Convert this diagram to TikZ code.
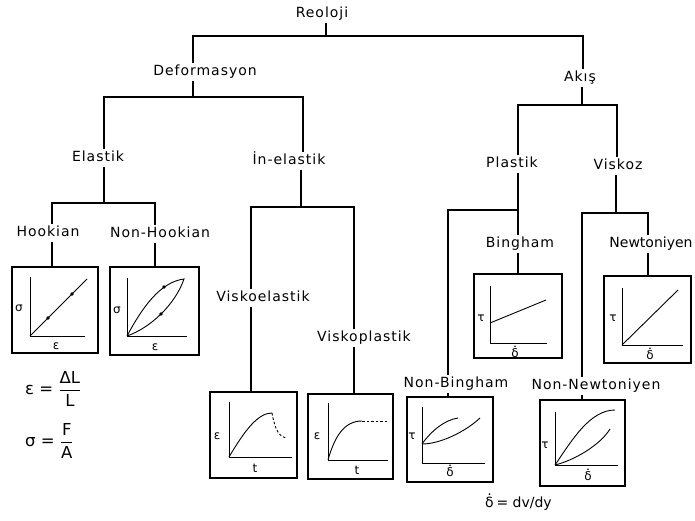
\documentclass[tikz,border=0pt]{standalone}
\usepackage{fontspec}
\setmainfont{DejaVu Sans}
\newfontfamily\lblfont{DejaVu Sans}[LetterSpace=7]
\begin{document}
\begin{tikzpicture}[x=1pt,y=-1pt,
  lbl/.style={font=\lblfont\fontsize{14}{16}\selectfont, inner sep=2.5pt, text height=10pt, text depth=3pt},
  lbltight/.style={lbl, font=\fontsize{14}{16}\selectfont},
  ax/.style={font=\fontsize{12}{14}\selectfont, inner sep=0pt},
  frm/.style={font=\fontsize{14}{16}\selectfont, inner sep=0pt},
  frmbig/.style={font=\fontsize{16.5}{19}\selectfont, inner sep=0pt},
  tree/.style={line width=1.1pt},
  plotbox/.style={draw, line width=1.4pt, inner sep=0pt},
  crv/.style={line width=0.9pt},
  axis/.style={line width=1pt}]
\useasboundingbox (0,0) rectangle (695,521);

% labels
\node[lbl] (reo) at (322,14) {Reoloji};
\node[lbl] (def) at (205,72) {Deformasyon};
\node[lbl] (aks) at (580,78) {Akış};
\node[lbl] (ela) at (98,158) {Elastik};
\node[lbl] (ine) at (289,161) {İn-elastik};
\node[lbl] (pla) at (512,164) {Plastik};
\node[lbl] (vis) at (618,166) {Viskoz};
\node[lbl] (hoo) at (48,233) {Hookian};
\node[lbl] (nho) at (160,234) {Non-Hookian};
\node[lbl] (vel) at (263,298) {Viskoelastik};
\node[lbl] (vpl) at (364,338) {Viskoplastik};
\node[lbl] (big) at (520,244) {Bingham};
\node[lbltight] (new) at (651,244) {Newtoniyen};
\node[lbl] (nbi) at (456,384) {Non-Bingham};
\node[lbl] (nne) at (596,386) {Non-Newtoniyen};

% boxes
\node[plotbox, minimum width=86pt, minimum height=86pt] (hb) at (55,310) {};
\node[plotbox, minimum width=89pt, minimum height=88pt] (nhb) at (154.5,311) {};
\node[plotbox, minimum width=87pt, minimum height=86pt] (veb) at (253.5,435) {};
\node[plotbox, minimum width=85pt, minimum height=85pt] (vpb) at (350.5,436.5) {};
\node[plotbox, minimum width=88pt, minimum height=84pt] (bb) at (518,316) {};
\node[plotbox, minimum width=86pt, minimum height=85pt] (nbb) at (450,439.5) {};
\node[plotbox, minimum width=87pt, minimum height=87pt] (nwb) at (647.5,319.5) {};
\node[plotbox, minimum width=85pt, minimum height=86pt] (nnb) at (582.5,443) {};

% junctions
\coordinate (jR) at (326,36); \coordinate (jRl) at (193,36); \coordinate (jRr) at (583,36);
\coordinate (jD) at (193,97); \coordinate (jDl) at (104,97); \coordinate (jDr) at (303,97);
\coordinate (jA) at (582,105); \coordinate (jAl) at (518,105); \coordinate (jAr) at (617,105);
\coordinate (jE) at (104,203); \coordinate (jEl) at (52,203); \coordinate (jEr) at (155,203);
\coordinate (jI) at (301,207); \coordinate (jIl) at (251,207); \coordinate (jIr) at (354,207);
\coordinate (jP) at (518,210); \coordinate (jPl) at (448,210);
\coordinate (jV) at (616,213); \coordinate (jVl) at (582,213); \coordinate (jVr) at (648,213);

% tree connectors
\draw[tree] (reo.south -| jR) -- (jR);
\draw[tree] (def.north -| jRl) -- (jRl) -- (jRr) -- (aks.north -| jRr);
\draw[tree] (def.south -| jD) -- (jD);
\draw[tree] (ela.north -| jDl) -- (jDl) -- (jDr) -- (ine.north -| jDr);
\draw[tree] (aks.south -| jA) -- (jA);
\draw[tree] (pla.north -| jAl) -- (jAl) -- (jAr) -- (vis.north -| jAr);
\draw[tree] (ela.south -| jE) -- (jE);
\draw[tree] (hoo.north -| jEl) -- (jEl) -- (jEr) -- (nho.north -| jEr);
\draw[tree] (hoo.south -| jEl) -- (hb.north -| jEl);
\draw[tree] (nho.south -| jEr) -- (nhb.north -| jEr);
\draw[tree] (ine.south -| jI) -- (jI);
\draw[tree] (vel.north -| jIl) -- (jIl) -- (jIr) -- (vpl.north -| jIr);
\draw[tree] (vel.south -| jIl) -- (veb.north -| jIl);
\draw[tree] (vpl.south -| jIr) -- (vpb.north -| jIr);
\draw[tree] (pla.south -| jP) -- (big.north -| jP);
\draw[tree] (jP) -- (jPl) -- (nbi.north -| jPl);
\draw[tree] (big.south -| jP) -- (bb.north -| jP);
\draw[tree] (nbi.south -| jPl) -- (nbb.north -| jPl);
\draw[tree] (vis.south -| jV) -- (jV);
\draw[tree] (nne.north -| jVl) -- (jVl) -- (jVr) -- (new.north -| jVr);
\draw[tree] (new.south -| jVr) -- (nwb.north -| jVr);
\draw[tree] (nne.south -| jVl) -- (nnb.north -| jVl);

% Hookian plot
\draw[axis] (30,277) -- (30,336) -- (85,336);
\draw[crv] (30,336) -- (87,279);
\fill (48,318) circle[radius=1.8pt] (72,294) circle[radius=1.8pt];
\node[ax] at (19,308) {σ};
\node[ax] at (56,346) {ε};

% Non-Hookian plot
\draw[axis] (127,278) -- (127,336) -- (187,336);
\draw[crv] (127,336) .. controls (142,308) and (160,282) .. (184,279)
  .. controls (175,305) and (150,328) .. (127,336);
\fill (164,287) circle[radius=1.8pt] (161,314) circle[radius=1.8pt];
\node[ax] at (117,310) {σ};
\node[ax] at (155,347) {ε};

% Viskoelastik plot
\draw[axis] (229,402) -- (229,457) -- (292,457);
\draw[crv] (229,457) .. controls (245,430) and (258,413) .. (272,413);
\draw[crv, dash pattern=on 2.5pt off 2pt] (272,413) .. controls (275,430) and (279,437) .. (287,438);
\node[ax] at (217,436) {ε};
\node[ax] at (255,468) {t};

% Viskoplastik plot
\draw[axis] (328,403) -- (328,460) -- (388,460);
\draw[crv] (328,460) .. controls (335,435) and (345,421) .. (362,421);
\draw[crv, dash pattern=on 2.5pt off 2pt] (362,421) -- (389,421);
\node[ax] at (317,436) {ε};
\node[ax] at (357,470) {t};

% Bingham plot
\draw[axis] (490,286) -- (490,343) -- (547,343);
\draw[crv] (490,323) -- (546,300);
\node[ax] at (481,318) {τ};
\node[ax] (bd) at (515,353) {δ};
\fill ([yshift=2pt]bd.north) circle[radius=0.9pt];

% Newtoniyen plot
\draw[axis] (622,288) -- (622,345) -- (683,345);
\draw[crv] (622,345) -- (678,290);
\node[ax] at (613,318) {τ};
\node[ax] (nd) at (650,355) {δ};
\fill ([yshift=2pt]nd.north) circle[radius=0.9pt];

% Non-Bingham plot
\draw[axis] (422,407) -- (422,463) -- (485,463);
\draw[crv] (422,444) .. controls (432,430) and (445,420) .. (458,418);
\draw[crv] (422,444) .. controls (440,444) and (465,432) .. (480,418);
\node[ax] at (412,436) {τ};
\node[ax] (nbd) at (450,472) {δ};
\fill ([yshift=2pt]nbd.north) circle[radius=0.9pt];

% Non-Newtoniyen plot
\draw[axis] (555,412) -- (555,465) -- (618,465);
\draw[crv] (555,465) .. controls (572,440) and (590,410) .. (615,410);
\draw[crv] (555,465) .. controls (575,460) and (600,445) .. (610,429);
\node[ax] at (545,445) {τ};
\node[ax] (nnd) at (588,476) {δ};
\fill ([yshift=2pt]nnd.north) circle[radius=0.9pt];

% formulas
\node[frmbig, anchor=west] (f1) at (25,389) {ε = $\displaystyle\frac{\mbox{ΔL}}{\mbox{L}}$};
\node[frmbig, anchor=west] (f2) at (25,441) {σ = $\displaystyle\frac{\mbox{F}}{\mbox{A}}$};
\node[frm, anchor=base west] (f3d) at (485,507) {δ};
\fill ([yshift=2.2pt]f3d.north) circle[radius=1pt];
\node[frm, anchor=base west] (f3) at (f3d.base east) {\,= dv/dy};
\end{tikzpicture}
\end{document}
